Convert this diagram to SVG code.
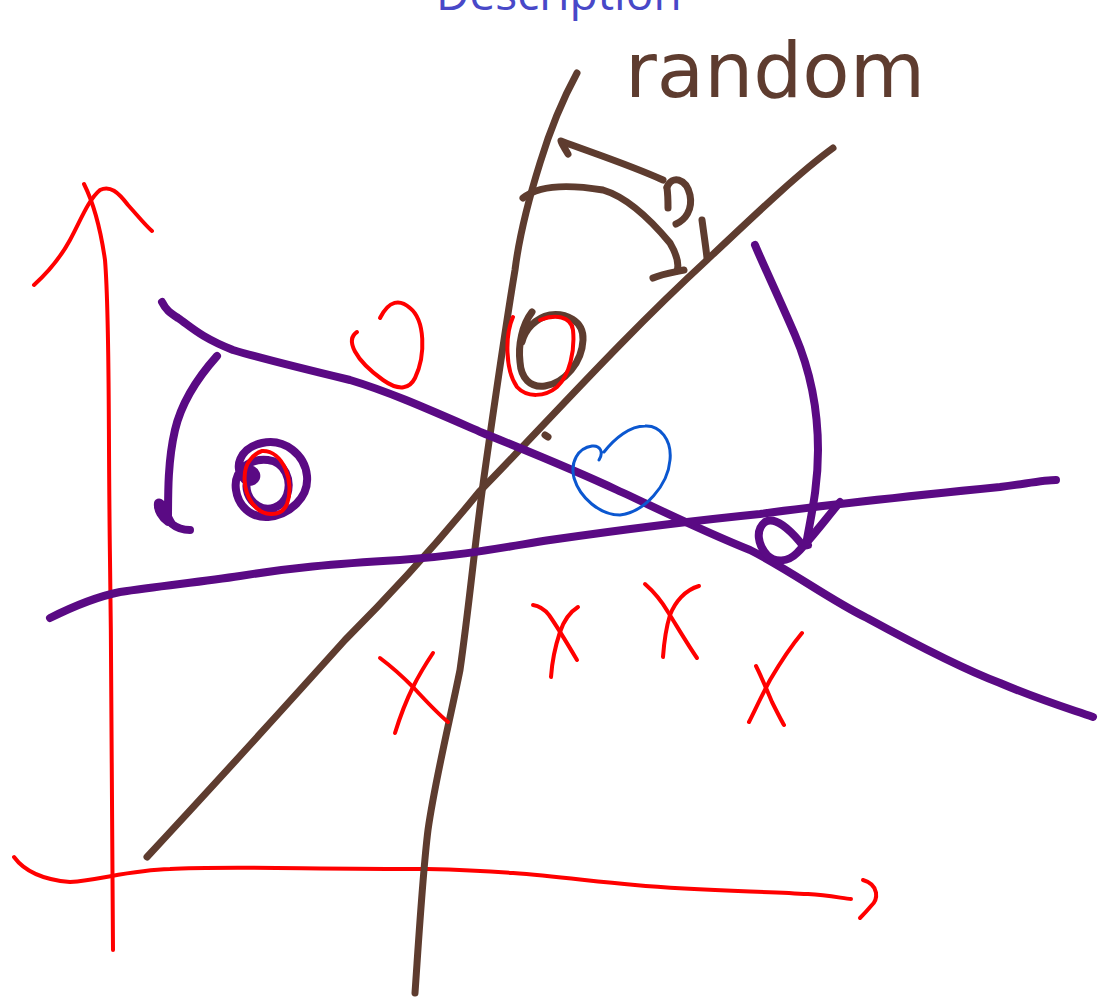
<svg xmlns="http://www.w3.org/2000/svg" width="1100" height="1000" viewBox="0 0 1100 1000">
<style>
.s{fill:none;stroke-linecap:round;stroke-linejoin:round}
.red{stroke:#ff0000;stroke-width:4}
.brown{stroke:#5e3c2f;stroke-width:7}
.purple{stroke:#5a0a84;stroke-width:8}
.blue{stroke:#0b57d0;stroke-width:3}
</style>
<rect width="1100" height="1000" fill="#ffffff"/>
<text x="436" y="10" font-family="'Open Sans','Noto Sans',sans-serif" font-size="46" fill="#4848c8">Description</text>
<text x="625" y="97" font-family="'DejaVu Sans',sans-serif" font-size="77" fill="#5e3c2f" textLength="300" lengthAdjust="spacingAndGlyphs">random</text>

<g id="axes">
<path class="s red" d="M84,184 C92,200 100,225 105,260 C110,320 108,420 110,560 C112,700 112,850 113,950"/>
<path class="s red" d="M34,285 C45,275 58,262 70,240 C80,222 88,200 100,190 C110,185 118,192 128,205 C138,216 145,225 152,231"/>
<path class="s red" d="M14,857 C25,872 45,880 70,882 C100,880 130,870 170,869 C220,866 300,869 427,869 C520,871 560,878 635,885 C700,891 760,891 808,894 C830,895 845,899 851,899"/>
<path class="s red" d="M863,880 C880,885 878,900 871,906 C866,912 862,916 860,918"/>
</g>

<g id="brown-lines">
<path class="s brown" d="M577,73 C565,95 550,130 540,163 C530,195 520,230 515,270 C505,330 495,400 485,470 C475,540 470,600 460,670 C450,720 435,780 428,830 C423,870 420,920 415,993"/>
<path class="s brown" d="M147,857 C200,800 300,690 345,640 C400,585 440,540 479,492 C540,430 620,340 707,260 C760,210 800,172 833,148"/>
<path class="s brown" d="M523,198 C535,188 560,183 603,190 C630,198 655,225 670,243 C677,255 679,265 677,271"/>
<path class="s brown" d="M653,278 C662,274 675,272 684,270"/>
<path class="s brown" d="M702,220 C704,235 706,248 707,258"/>
<path class="s brown" d="M568,154 C566,150 562,145 561,141 C590,152 630,165 663,180"/>
<path class="s brown" d="M667,187 C672,175 686,178 690,195 C693,210 685,220 676,224"/>
<path class="s brown" d="M667,188 C668,195 668,202 668,208"/>
<path class="s brown" d="M532,312 C522,325 518,345 520,362 C521,378 530,388 545,386 C565,383 582,362 583,340 C584,320 565,313 550,315 C535,318 525,330 522,342"/>
<path class="s brown" d="M545,435 L548,437"/>
</g>

<g id="purple-lines">
<path class="s purple" d="M162,302 C166,310 170,313 178,318 C190,326 200,337 233,350 C260,358 300,368 350,380 C390,392 430,410 483,433 C520,448 570,468 617,490 C650,505 700,530 750,550 C790,570 830,600 867,618 C900,636 960,668 1000,683 C1040,700 1067,708 1093,717"/>
<path class="s purple" d="M50,618 C70,608 95,597 120,592 C160,586 200,582 240,576 C290,568 330,564 400,560 C460,556 500,548 550,540 C620,530 700,520 760,514 C840,503 920,495 1000,487 C1030,483 1045,480 1056,480"/>
<path class="s purple" d="M755,245 C762,262 780,300 795,335 C810,370 818,410 818,450 C818,490 810,520 806,545"/>
<path class="s purple" d="M840,502 C825,520 810,540 797,553 C788,562 775,563 767,555 C758,545 755,530 765,522 C775,516 790,530 800,542 C803,546 805,546 808,545"/>
<path class="s purple" d="M217,356 C200,375 182,400 175,430 C168,460 168,490 168,522 C162,518 157,510 158,503 C162,500 166,515 172,524 C178,529 184,530 190,530"/>
<path class="s purple" d="M250,478 C244,470 252,466 256,474 C258,480 250,485 245,480 C232,468 240,448 262,443 C285,438 305,455 307,476 C309,497 290,515 268,517 C250,518 238,505 236,490 C233,470 250,458 268,460 C285,462 292,480 287,495 C282,508 268,512 258,506 C248,500 244,488 248,478"/>
</g>

<g id="red-marks">
<path class="s red" d="M262,451 C283,450 295,482 287,504 C281,518 262,517 252,503 C243,490 242,470 250,460 C254,455 258,452 262,451"/>
<path class="s red" d="M357,332 C345,340 355,360 383,380 C400,392 410,388 415,378 C426,355 425,320 410,308 C400,299 389,300 380,318"/>
<path class="s red" d="M513,317 C505,335 505,370 517,387 C527,398 545,397 557,387 C570,375 575,350 573,330 C571,316 555,314 540,320"/>
<path class="s red" d="M380,658 C392,667 403,677 413,687 C425,700 437,713 448,722"/>
<path class="s red" d="M433,653 C425,665 418,677 413,687 C405,703 399,720 395,733"/>
<path class="s red" d="M533,605 C540,606 545,610 549,615 C556,625 567,643 577,660"/>
<path class="s red" d="M578,607 C570,612 564,620 560,632 C555,647 552,662 551,677"/>
<path class="s red" d="M645,584 C653,591 661,600 668,612 C678,628 688,645 697,658"/>
<path class="s red" d="M699,586 C685,590 675,602 670,615 C666,628 664,643 663,657"/>
<path class="s red" d="M802,633 C792,645 780,663 770,680 C762,695 755,710 749,722"/>
<path class="s red" d="M756,666 C762,678 767,690 772,702 C777,712 781,720 784,725"/>
</g>

<g id="blue-mark">
<path class="s blue" d="M599,460 C604,452 600,445 592,446 C578,448 570,462 574,478 C580,498 600,515 620,515 C645,512 668,485 670,460 C672,440 660,425 645,426 C630,426 615,438 604,452"/>
</g>
</svg>
